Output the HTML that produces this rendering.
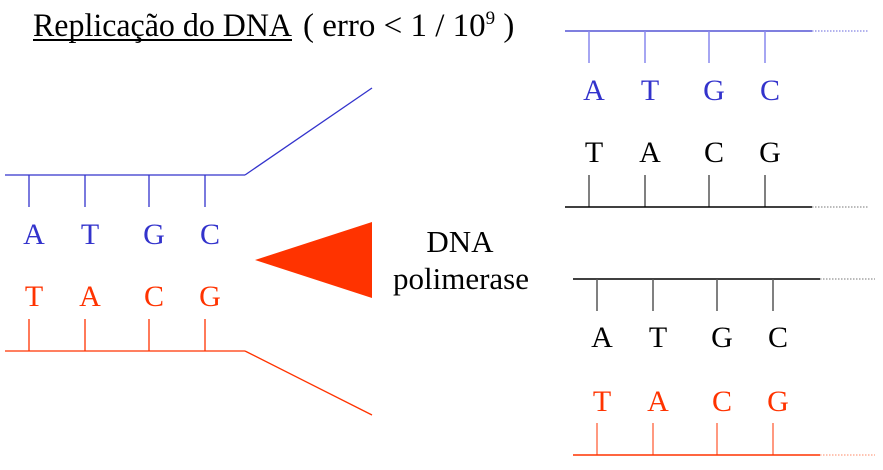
<!DOCTYPE html>
<html><head><meta charset="utf-8"><style>
html,body{margin:0;padding:0;background:#fff;width:883px;height:470px;overflow:hidden}
svg text{font-family:"Liberation Serif",serif}
</style></head><body>
<svg width="883" height="470" viewBox="0 0 883 470" xmlns="http://www.w3.org/2000/svg">
<text x="33" y="36" font-size="33" fill="#000" textLength="259" lengthAdjust="spacingAndGlyphs">Replicação do DNA</text>
<text x="303" y="36" font-size="33" fill="#000">( erro &lt; 1 / 10<tspan font-size="19" dy="-12">9</tspan><tspan dy="12"> )</tspan></text>
<line x1="33" y1="40" x2="292" y2="40" stroke="#000" stroke-width="2"/>
<!-- left -->
<g stroke="#3333cc" stroke-width="1.3">
<line x1="5" y1="175" x2="245" y2="175"/><line x1="245" y1="175" x2="372" y2="88"/>
<line x1="29" y1="175" x2="29" y2="207"/><line x1="85" y1="175" x2="85" y2="207"/><line x1="149" y1="175" x2="149" y2="207"/><line x1="205" y1="175" x2="205" y2="207"/>
</g>
<g font-size="30" fill="#3333cc" text-anchor="middle"><text x="34" y="244">A</text><text x="90" y="244">T</text><text x="154" y="244">G</text><text x="210" y="244">C</text></g>
<g font-size="30" fill="#ff3300" text-anchor="middle"><text x="34" y="306">T</text><text x="90" y="306">A</text><text x="154" y="306">C</text><text x="210" y="306">G</text></g>
<g stroke="#ff3300" stroke-width="1.3">
<line x1="5" y1="351" x2="245" y2="351"/><line x1="245" y1="351" x2="372" y2="415"/>
<line x1="29" y1="319" x2="29" y2="351"/><line x1="85" y1="319" x2="85" y2="351"/><line x1="149" y1="319" x2="149" y2="351"/><line x1="205" y1="319" x2="205" y2="351"/>
</g>
<polygon points="255,260 372,222 372,298" fill="#ff3300"/>
<g font-size="31" fill="#000" text-anchor="middle"><text x="460" y="252">DNA</text><text x="461" y="289">polimerase</text></g>
<!-- top right -->
<line x1="565" y1="31" x2="812" y2="31" stroke="#3333cc" stroke-width="1.3"/>
<line x1="812" y1="31" x2="868" y2="31" stroke="#6666dd" stroke-dasharray="1.5,1.5"/>
<g stroke="#8888ee" stroke-width="1.5"><line x1="589" y1="31" x2="589" y2="63"/><line x1="645" y1="31" x2="645" y2="63"/><line x1="709" y1="31" x2="709" y2="63"/><line x1="765" y1="31" x2="765" y2="63"/></g>
<g font-size="30" fill="#3333cc" text-anchor="middle"><text x="594" y="100">A</text><text x="650" y="100">T</text><text x="714" y="100">G</text><text x="770" y="100">C</text></g>
<g font-size="30" fill="#000" text-anchor="middle"><text x="594" y="162">T</text><text x="650" y="162">A</text><text x="714" y="162">C</text><text x="770" y="162">G</text></g>
<g stroke="#555" stroke-width="1.5"><line x1="589" y1="175" x2="589" y2="207"/><line x1="645" y1="175" x2="645" y2="207"/><line x1="709" y1="175" x2="709" y2="207"/><line x1="765" y1="175" x2="765" y2="207"/></g>
<line x1="565" y1="207" x2="812" y2="207" stroke="#000" stroke-width="1.5"/>
<line x1="812" y1="207" x2="868" y2="207" stroke="#777" stroke-dasharray="1.5,1.5"/>
<!-- bottom right -->
<line x1="573" y1="279" x2="820" y2="279" stroke="#000" stroke-width="1.5"/>
<line x1="820" y1="279" x2="875" y2="279" stroke="#777" stroke-dasharray="1.5,1.5"/>
<g stroke="#555" stroke-width="1.5"><line x1="597" y1="279" x2="597" y2="311"/><line x1="653" y1="279" x2="653" y2="311"/><line x1="717" y1="279" x2="717" y2="311"/><line x1="773" y1="279" x2="773" y2="311"/></g>
<g font-size="30" fill="#000" text-anchor="middle"><text x="602" y="347">A</text><text x="658" y="347">T</text><text x="722" y="347">G</text><text x="778" y="347">C</text></g>
<g font-size="30" fill="#ff3300" text-anchor="middle"><text x="602" y="411">T</text><text x="658" y="411">A</text><text x="722" y="411">C</text><text x="778" y="411">G</text></g>
<g stroke="#ff7755" stroke-width="1.5"><line x1="597" y1="423" x2="597" y2="455"/><line x1="653" y1="423" x2="653" y2="455"/><line x1="717" y1="423" x2="717" y2="455"/><line x1="773" y1="423" x2="773" y2="455"/></g>
<line x1="573" y1="455" x2="820" y2="455" stroke="#ff3300" stroke-width="1.5"/>
<line x1="820" y1="455" x2="875" y2="455" stroke="#ff8866" stroke-dasharray="1.5,1.5"/>
</svg>
</body></html>
